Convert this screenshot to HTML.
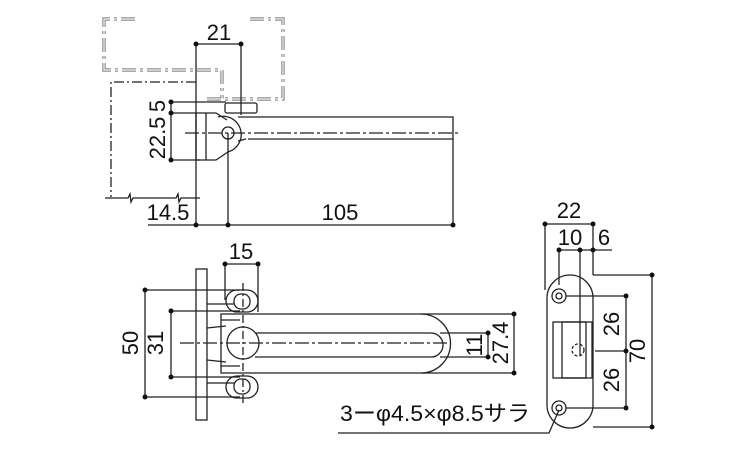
<!DOCTYPE html>
<html><head><meta charset="utf-8"><style>
html,body{margin:0;padding:0;background:#fff}
svg{display:block}
text{font-family:"Liberation Sans","Noto Sans CJK JP",sans-serif;font-size:22px;fill:#111}
</style></head><body>
<svg width="750" height="450" viewBox="0 0 750 450" xmlns="http://www.w3.org/2000/svg">
<g fill="none" stroke="#222" stroke-width="1.3">
<g stroke="#777" stroke-width="3.2" stroke-dasharray="14,4,3,4">
<path d="M135,19 H104 V70 H222 V99"/>
<path d="M250,19 H283 V99 H206"/>
</g>
<g stroke="#fff" stroke-width="1.2">
<path d="M135,19 H104 V70 H222 V99"/>
<path d="M250,19 H283 V99 H206"/>
</g>
<path d="M196,82 H111 V197" stroke-dasharray="10,3,2,3"/>
<path d="M196,44 H241 M196,44 V225 M241,44 V115"/>
<path d="M171,102 V160 M171,102 H226 M171,113 H196 M171,160 H200"/>
<path d="M105,198 H128 l2,-4 l1,8 l2,-4 H176 l2,-4 l1,8 l2,-4 H200"/>
<path d="M148,225 H453 M228,133 V225 M453,139 V225"/>
<path d="M196,113 H206 V160 H196 Z M206,113 H216 L227,120 M206,160 H216 L228,152"/>
<rect x="225" y="103" width="32" height="10" rx="2"/>
<path d="M218,117 A11,11 0 1,1 228,152"/>
<circle cx="228" cy="133" r="6"/>
<path d="M238,117 H453 V139 H248 M238,141 L246,139"/>
<path d="M185,133 H460" stroke-dasharray="14,3,3,3"/>
<rect x="196" y="269" width="11" height="151"/>
<path d="M145,290 V397 M145,290 H240 M145,397 H240"/>
<path d="M171,311 V377 M171,311 H240 M171,377 H240"/>
<path d="M225,264 H258 M225,264 V300 M258,264 V312"/>
<rect x="226" y="290" width="32" height="22" rx="11"/>
<rect x="234" y="294" width="16" height="15" rx="7"/>
<rect x="226" y="376" width="32" height="22" rx="11"/>
<rect x="234" y="379" width="16" height="15" rx="7"/>
<path d="M207,304 H235 M207,383 H235 M207,328 L226,326 M207,360 L226,362"/>
<circle cx="243" cy="343" r="16"/>
<path d="M221,314 H421 A29.5,29.5 0 0 1 421,373 H221 Z"/>
<path d="M255,333 H431 A12,12 0 0 1 431,357 H255"/>
<path d="M221,320 H240 M221,366 H240"/>
<path d="M243,283 V405" stroke-dasharray="8,3,2,3"/>
<path d="M180,343 H448" stroke-dasharray="14,3,3,3"/>
<path d="M440,333 H488 M440,357 H488 M488,333 V357"/>
<path d="M421,314 H514 M421,373 H514 M514,314 V373"/>
<path d="M338,433 H549 L559,410"/>
<path d="M545,224 H593 M545,224 V290 M593,224 V275"/>
<path d="M559,250 H612 M559,250 V285 M580,250 V355"/>
<rect x="547" y="275" width="46" height="153" rx="23"/>
<circle cx="559" cy="296" r="7"/><circle cx="559" cy="296" r="3"/>
<circle cx="559" cy="408" r="7"/><circle cx="559" cy="408" r="3"/>
<rect x="553" y="322" width="39" height="56"/>
<rect x="562" y="322" width="24" height="56"/>
<circle cx="578" cy="350" r="6" stroke-dasharray="3,2"/>
<path d="M593,275 H652 M593,427 H652 M652,275 V427"/>
<path d="M566,296 H626 M566,408 H626 M595,351 H626 M626,296 V408"/>
</g>
<g fill="#111">
<circle cx="196" cy="44" r="2.5"/><circle cx="241" cy="44" r="2.5"/>
<circle cx="171" cy="102" r="2.5"/><circle cx="171" cy="113" r="2.5"/><circle cx="171" cy="160" r="2.5"/>
<circle cx="196" cy="225" r="2.5"/><circle cx="228" cy="225" r="2.5"/><circle cx="453" cy="225" r="2.5"/>
<circle cx="225" cy="264" r="2.5"/><circle cx="258" cy="264" r="2.5"/>
<circle cx="145" cy="290" r="2.5"/><circle cx="145" cy="397" r="2.5"/>
<circle cx="171" cy="311" r="2.5"/><circle cx="171" cy="377" r="2.5"/>
<circle cx="488" cy="333" r="2.5"/><circle cx="488" cy="357" r="2.5"/>
<circle cx="514" cy="314" r="2.5"/><circle cx="514" cy="373" r="2.5"/>
<circle cx="545" cy="224" r="2.5"/><circle cx="593" cy="224" r="2.5"/>
<circle cx="559" cy="250" r="2.5"/><circle cx="580" cy="250" r="2.5"/><circle cx="593" cy="250" r="2.5"/>
<circle cx="652" cy="275" r="2.5"/><circle cx="652" cy="427" r="2.5"/>
<circle cx="626" cy="296" r="2.5"/><circle cx="626" cy="351" r="2.5"/><circle cx="626" cy="408" r="2.5"/>
</g>
<text x="219" y="40" text-anchor="middle">21</text>
<text transform="translate(165,106) rotate(-90)" text-anchor="middle">5</text>
<text transform="translate(165,138) rotate(-90)" text-anchor="middle">22.5</text>
<text x="168" y="220" text-anchor="middle">14.5</text>
<text x="340" y="220" text-anchor="middle">105</text>
<text x="241" y="259" text-anchor="middle">15</text>
<text transform="translate(138,343) rotate(-90)" text-anchor="middle">50</text>
<text transform="translate(163,343) rotate(-90)" text-anchor="middle">31</text>
<text transform="translate(482,345) rotate(-90)" text-anchor="middle">11</text>
<text transform="translate(508,343) rotate(-90)" text-anchor="middle">27.4</text>
<text x="340" y="421" textLength="190" lengthAdjust="spacingAndGlyphs">3ーφ4.5×φ8.5サラ</text>
<text x="569" y="218" text-anchor="middle">22</text>
<text x="570" y="245" text-anchor="middle">10</text>
<text x="604" y="245" text-anchor="middle">6</text>
<text transform="translate(619,324) rotate(-90)" text-anchor="middle">26</text>
<text transform="translate(619,380) rotate(-90)" text-anchor="middle">26</text>
<text transform="translate(645,351) rotate(-90)" text-anchor="middle">70</text>
</svg>
</body></html>
